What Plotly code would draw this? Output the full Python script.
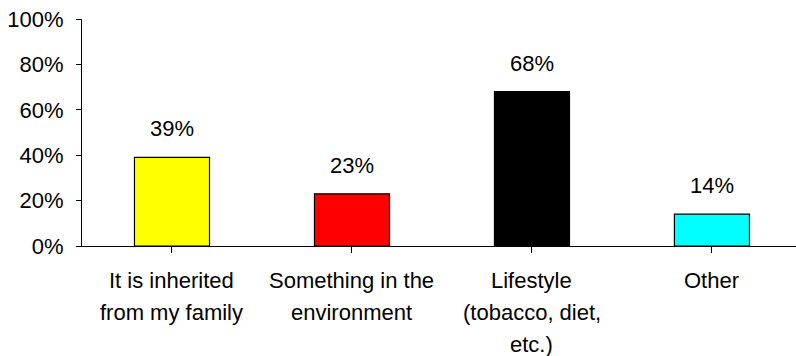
import plotly.graph_objects as go

categories = ["It is inherited<br>from my family", "Something in the<br>environment",
              "Lifestyle<br>(tobacco, diet,<br>etc.)", "Other"]
values = [39, 23, 68, 14]
colors = ["#FFFF00", "#FF0000", "#000000", "#00FFFF"]
y_ticks = [0, 20, 40, 60, 80, 100]

FONT = "Liberation Sans, Arial, sans-serif"
FS = 22
x_idx = list(range(len(categories)))

fig = go.Figure()
fig.add_trace(go.Bar(
    x=x_idx, y=values, width=0.417,
    marker=dict(color=colors, line=dict(color="black", width=1.2)),
    hoverinfo="skip",
))

annotations = []
for i, v in zip(x_idx, values):
    annotations.append(dict(x=i, y=v, xref="x", yref="y", text=f"{v}%",
                            showarrow=False, yanchor="bottom", yshift=14,
                            font=dict(family=FONT, size=FS, color="black")))
for i, lab in zip(x_idx, categories):
    for j, line in enumerate(lab.split("<br>")):
        annotations.append(dict(x=i, y=0, xref="x", yref="y", text=line,
                                showarrow=False, yanchor="top", yshift=-20 - 32 * j,
                                font=dict(family=FONT, size=FS, color="black")))

fig.update_layout(
    width=796, height=356,
    margin=dict(l=82, r=0, t=19, b=110),
    paper_bgcolor="white", plot_bgcolor="white",
    showlegend=False,
    font=dict(family=FONT, size=FS, color="black"),
    annotations=annotations,
    xaxis=dict(range=[-0.5, 3.467], tickmode="array", tickvals=x_idx,
               showticklabels=False, tickson="boundaries", ticks="outside",
               ticklen=6, tickcolor="black", tickwidth=1,
               showline=True, linecolor="black", linewidth=1,
               showgrid=False, zeroline=False, fixedrange=True),
    yaxis=dict(range=[0, 100], tickmode="array", tickvals=y_ticks,
               ticktext=[f"{t}%" for t in y_ticks],
               ticks="outside", ticklen=5, tickcolor="black", tickwidth=1,
               ticklabelstandoff=8,
               showline=True, linecolor="black", linewidth=1,
               showgrid=False, zeroline=False, fixedrange=True,
               tickfont=dict(family=FONT, size=FS, color="black")),
)

fig.write_html("out.html")
